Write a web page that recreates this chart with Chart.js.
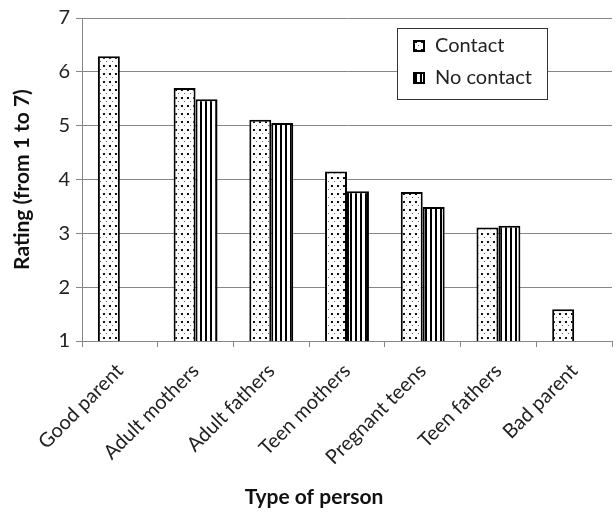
<!DOCTYPE html>
<html>
<head>
<meta charset="utf-8">
<script src="https://cdn.jsdelivr.net/npm/chart.js@4.4.1/dist/chart.umd.min.js"></script>
<style>
  html, body { margin: 0; padding: 0; background: #fff; }
  #wrap { width: 616px; height: 514px; }
</style>
</head>
<body>
<div id="wrap"><canvas id="chart" width="616" height="514"></canvas></div>
<script>
// data
const categories = ['Good parent', 'Adult mothers', 'Adult fathers', 'Teen mothers', 'Pregnant teens', 'Teen fathers', 'Bad parent'];
const contactValues = [6.29, 5.70, 5.11, 4.15, 3.77, 3.11, 1.59];
const noContactValues = [null, 5.49, 5.05, 3.78, 3.49, 3.14, null];
const yTicks = [1, 2, 3, 4, 5, 6, 7];

const FONT = 'Lato, "Open Sans", sans-serif';

// dotted fill for "Contact"
function dotPattern() {
    const c = document.createElement('canvas');
    c.width = 6; c.height = 8;
    const g = c.getContext('2d');
    g.fillStyle = '#fff';
    g.fillRect(0, 0, 6, 8);
    g.fillStyle = '#111';
    g.fillRect(1, 1, 2, 2);
    g.fillStyle = '#666';
    g.fillRect(4, 5, 1, 1);
    return g.createPattern(c, 'repeat');
}

// vertical stripes for "No contact"
function stripePattern() {
    const c = document.createElement('canvas');
    c.width = 5; c.height = 5;
    const g = c.getContext('2d');
    g.fillStyle = '#fff';
    g.fillRect(0, 0, 5, 5);
    g.fillStyle = '#000';
    g.fillRect(0, 0, 2, 5);
    return g.createPattern(c, 'repeat');
}

const contactFill = dotPattern();
const noContactFill = stripePattern();

// legend box inside the plot + x axis title
const boxLegend = {
    id: 'boxLegend',
    afterDraw(chart) {
        const ctx = chart.ctx;
        ctx.save();
        ctx.fillStyle = '#fff';
        ctx.fillRect(397, 28, 150, 71);
        ctx.strokeStyle = '#333';
        ctx.lineWidth = 1;
        ctx.strokeRect(397.5, 28.5, 150, 71);

        chart.data.datasets.forEach((ds, i) => {
            const y = 46 + i * 32;
            ctx.fillStyle = ds.backgroundColor;
            ctx.fillRect(414, y - 5, 10, 10);
            ctx.strokeStyle = '#000';
            ctx.lineWidth = 2;
            ctx.strokeRect(414, y - 5, 10, 10);
            ctx.fillStyle = '#222';
            ctx.font = '20px ' + FONT;
            ctx.textBaseline = 'middle';
            ctx.textAlign = 'left';
            ctx.fillText(ds.label, 435, y);
        });

        ctx.font = 'bold 21px ' + FONT;
        ctx.fillStyle = '#111';
        ctx.textAlign = 'center';
        ctx.textBaseline = 'middle';
        ctx.fillText('Type of person', 314, 497);
        ctx.restore();
    }
};

new Chart(document.getElementById('chart'), {
    type: 'bar',
    data: {
        labels: categories,
        datasets: [{
            label: 'Contact',
            data: contactValues,
            backgroundColor: contactFill,
            borderColor: '#000',
            borderWidth: 2
        }, {
            label: 'No contact',
            data: noContactValues,
            backgroundColor: noContactFill,
            borderColor: '#000',
            borderWidth: 2
        }]
    },
    options: {
        responsive: false,
        animation: false,
        layout: { padding: { top: 8, right: 4 }, autoPadding: false },
        datasets: {
            bar: { categoryPercentage: 0.58, barPercentage: 1 }
        },
        plugins: {
            legend: { display: false },
            tooltip: { enabled: false }
        },
        scales: {
            x: {
                grid: { offset: true, drawOnChartArea: false, color: '#868686', tickLength: 6 },
                border: { color: '#868686' },
                ticks: {
                    color: '#222',
                    font: { family: FONT, size: 20 },
                    maxRotation: 45,
                    minRotation: 45,
                    padding: 12
                },
                afterFit(scale) { scale.height = 173; }
            },
            y: {
                min: 1,
                max: 7,
                afterBuildTicks(scale) { scale.ticks = yTicks.map(v => ({ value: v })); },
                grid: { color: '#868686', tickLength: 6 },
                border: { color: '#868686' },
                ticks: {
                    color: '#222',
                    font: { family: FONT, size: 20 },
                    padding: 6
                },
                title: {
                    display: true,
                    text: 'Rating (from 1 to 7)',
                    color: '#111',
                    font: { family: FONT, size: 21, weight: 'bold' },
                    padding: { top: 10, bottom: 0 }
                },
                afterFit(scale) { scale.width = 82; }
            }
        }
    },
    plugins: [boxLegend]
});
</script>
</body>
</html>
